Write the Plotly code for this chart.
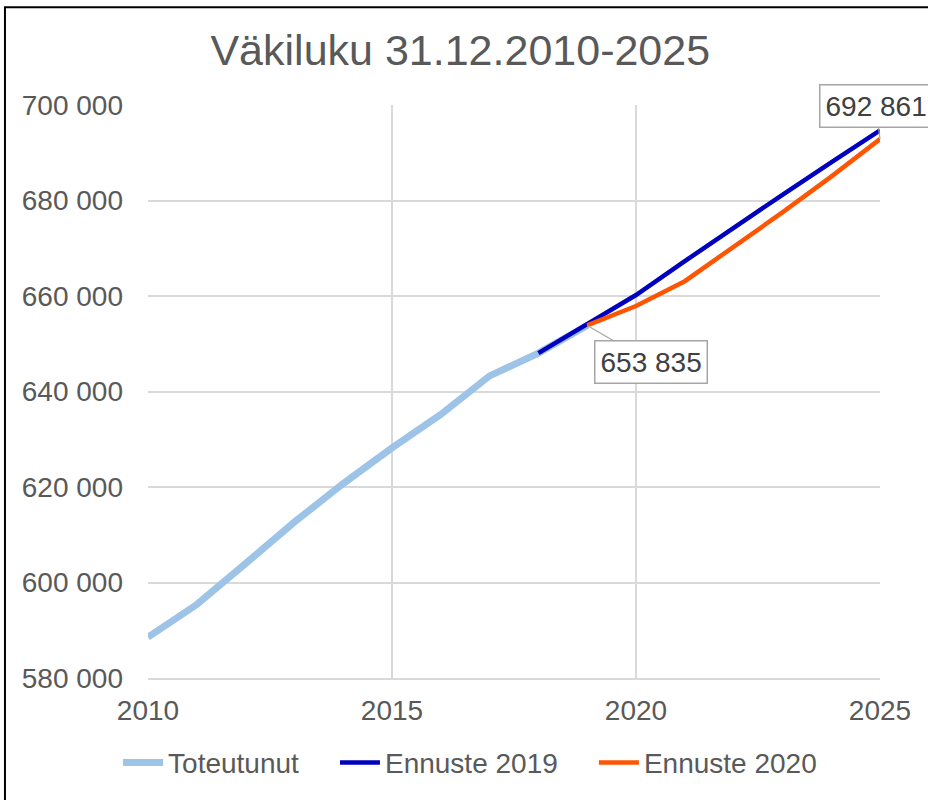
import plotly.graph_objects as go

years_actual = [2010, 2011, 2012, 2013, 2014, 2015, 2016, 2017, 2018, 2019]
toteutunut = [588549, 595384, 603968, 612664, 620715, 628208, 635181, 643272, 648042, 653835]

years_2019 = [2018, 2019, 2020, 2021, 2022, 2023, 2024, 2025]
ennuste_2019 = [648042, 654000, 660200, 667300, 674300, 681200, 688000, 694700]

years_2020 = [2019, 2020, 2021, 2022, 2023, 2024, 2025]
ennuste_2020 = [653835, 657900, 663100, 670200, 677500, 685000, 692861]

y_ticks = [580000, 600000, 620000, 640000, 660000, 680000, 700000]
x_ticks = [2010, 2015, 2020, 2025]

FONT = "Liberation Sans, Arial, sans-serif"
TXT = "#595959"
PAD = "\u00a0\u00a0\u00a0\u00a0"

fig = go.Figure()
fig.add_trace(go.Scatter(x=years_actual, y=toteutunut, mode="lines", name="Toteutunut" + PAD,
                         line=dict(color="#9DC3E6", width=7)))
fig.add_trace(go.Scatter(x=years_2019, y=ennuste_2019, mode="lines", name="Ennuste 2019" + PAD,
                         line=dict(color="#0000BF", width=4.5)))
fig.add_trace(go.Scatter(x=years_2020, y=ennuste_2020, mode="lines", name="Ennuste 2020",
                         line=dict(color="#FF5500", width=4.5)))

def fmt(v):
    return f"{v:,}".replace(",", " ")

fig.add_annotation(x=years_2020[0], y=ennuste_2020[0], text=fmt(ennuste_2020[0]),
                   showarrow=True, arrowhead=0, arrowwidth=1.2, arrowcolor="#A6A6A6",
                   ax=64, ay=37, bordercolor="#A6A6A6", borderwidth=1.5, borderpad=5,
                   bgcolor="white", font=dict(family=FONT, size=28, color="#404040"))
fig.add_annotation(x=years_2020[-1], y=ennuste_2020[-1], text=fmt(ennuste_2020[-1]),
                   showarrow=True, arrowhead=0, arrowwidth=1.2, arrowcolor="#A6A6A6",
                   ax=-4, ay=-33, bordercolor="#A6A6A6", borderwidth=1.5, borderpad=5,
                   bgcolor="white", font=dict(family=FONT, size=28, color="#404040"))

fig.add_shape(type="rect", xref="paper", yref="paper", x0=-0.1954, y0=-0.4, x1=1.2, y1=1.1704,
              line=dict(color="black", width=2), fillcolor="rgba(0,0,0,0)", layer="above")

fig.update_layout(
    width=928, height=800,
    margin=dict(l=148, r=48, t=105, b=120),
    paper_bgcolor="white", plot_bgcolor="white",
    separators=", ",
    font=dict(family=FONT, size=28, color=TXT),
    title=dict(text="Väkiluku 31.12.2010-2025", x=0.496, xref="container", xanchor="center",
               y=0.9375, yref="container", yanchor="middle",
               font=dict(family=FONT, size=43, color=TXT)),
    xaxis=dict(range=[2010, 2025], tickvals=x_ticks, showgrid=True, gridcolor="#D9D9D9",
               gridwidth=1.5, zeroline=False, showline=True, linecolor="#D9D9D9", linewidth=1.5,
               ticks="", ticklabelstandoff=7, tickfont=dict(size=28, color=TXT)),
    yaxis=dict(range=[580000, 700000], tickvals=y_ticks, tickformat=",d", showgrid=True,
               gridcolor="#D9D9D9", gridwidth=1.5, zeroline=False, showline=False,
               ticks="", ticklabelstandoff=24, tickfont=dict(size=28, color=TXT)),
    legend=dict(orientation="h", x=0.44, xanchor="center", y=-0.148, yanchor="middle",
                font=dict(size=28, color=TXT), itemwidth=40, tracegroupgap=0),
)

fig.write_html("out.html", config={"displayModeBar": False},
               post_script="document.body.style.margin='0';")
